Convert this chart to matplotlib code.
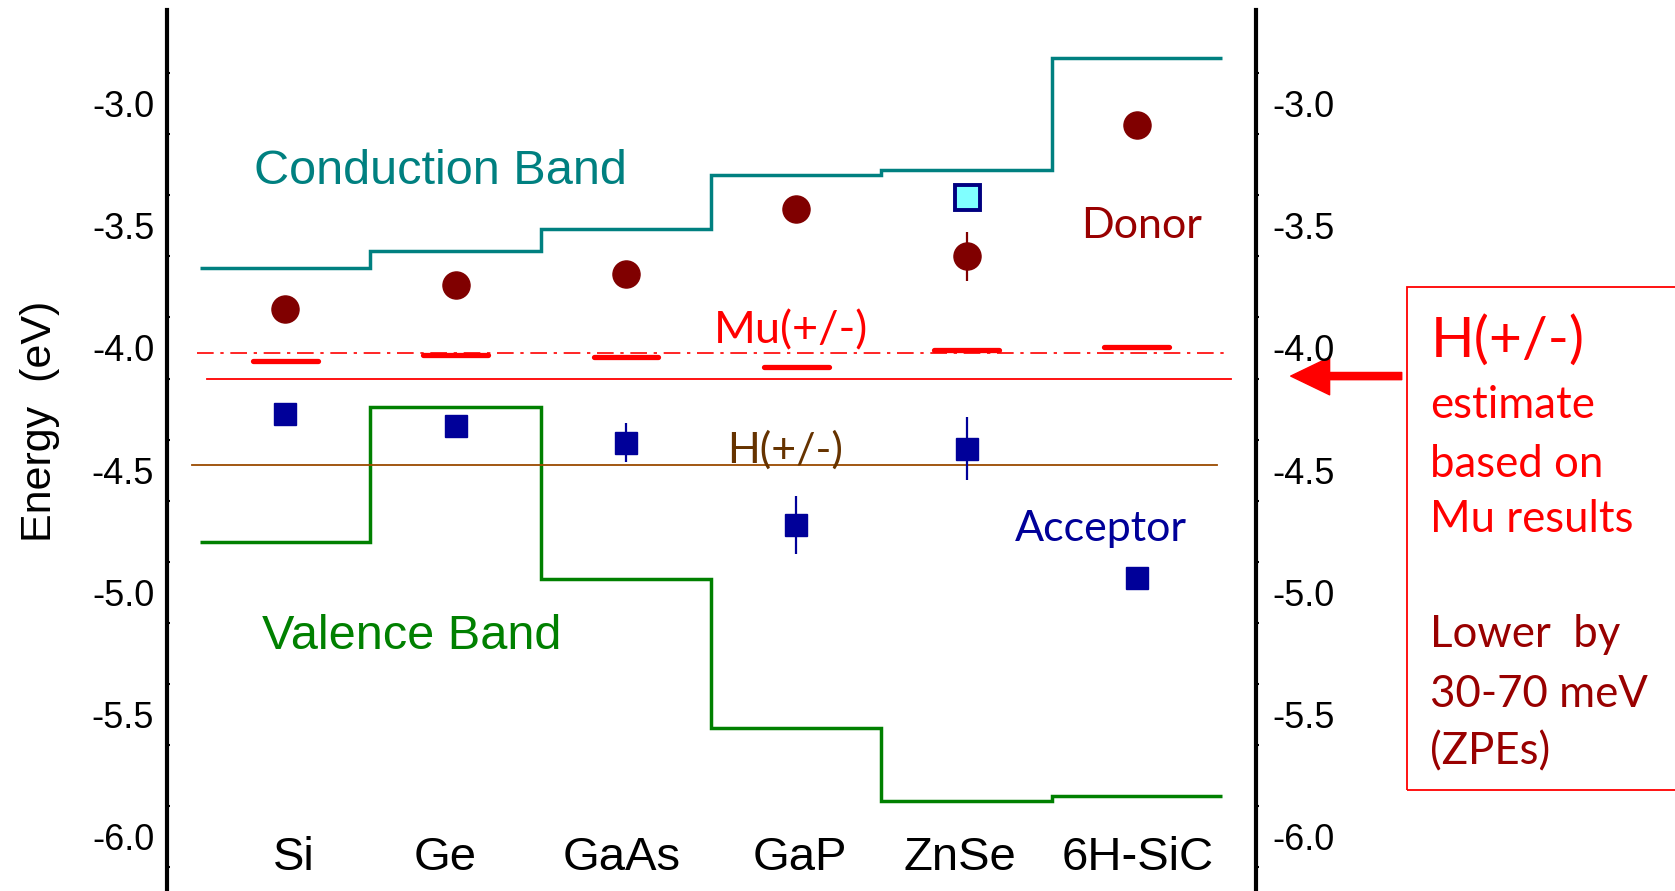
import numpy as np
import matplotlib
matplotlib.use("Agg")
import matplotlib.pyplot as plt
from matplotlib.patches import Rectangle

plt.rcParams['axes.unicode_minus'] = False

# values (eV)
materials = ['Si', 'Ge', 'GaAs', 'GaP', 'ZnSe', '6H-SiC']
cond_band = [-3.674, -3.604, -3.512, -3.293, -3.271, -2.812]
val_band = [-4.794, -4.242, -4.947, -5.555, -5.852, -5.835]
donor = [-3.840, -3.744, -3.696, -3.433, -3.624, -3.087]
donor_err = [0, 0, 0, 0, 0.10, 0]
acceptor = [-4.269, -4.321, -4.387, -4.724, -4.412, -4.942]
acceptor_err = [0, 0, 0.08, 0.12, 0.13, 0]
mu_level = [-4.054, -4.028, -4.037, -4.076, -4.010, -3.997]
znse_extra = -3.381
mu_avg = -4.022
h_est = -4.127
h_level = -4.478
yticks = [-3.0, -3.5, -4.0, -4.5, -5.0, -5.5, -6.0]

fig = plt.figure(figsize=(16.75, 8.91), dpi=100)
ax = fig.add_axes([0.0995, 0.0, 0.6504, 0.9888])
ax.set_xlim(-0.696, 5.700)
ax.set_ylim(-6.222, -2.617)

x = np.arange(len(materials))
edges = np.arange(-0.5, len(materials) + 0.5, 1)

ax.stairs(cond_band, edges, baseline=None, color='#008080', lw=2.5)
ax.stairs(val_band, edges, baseline=None, color='#008000', lw=2.5)

# horizontal reference lines
ax.plot([-0.516, 5.532], [mu_avg, mu_avg], color='red', lw=1.2, dashes=[10, 4, 2, 4])
ax.plot([-0.461, 5.552], [h_est, h_est], color='red', lw=1.3)
ax.plot([-0.545, 5.47], [h_level, h_level], color='#9A4A00', lw=1.3)

# Mu(+/-) levels
for xi, m in zip(x, mu_level):
    ax.plot([xi - 0.19, xi + 0.19], [m, m], color='red', lw=3.8, solid_capstyle='round')

ax.errorbar(x, donor, yerr=donor_err, fmt='o', color='#800000', ms=19.5,
            elinewidth=1.6, capsize=0, zorder=5)
ax.errorbar(x, acceptor, yerr=acceptor_err, fmt='s', color='#000099', ms=16,
            elinewidth=1.6, capsize=0, zorder=5)
ax.plot([4], [znse_extra], 's', ms=18, mfc='#80FFFF', mec='#000080', mew=2.8, zorder=5)

# labels inside the plot
ax.text(-0.183, -3.276, 'Conduction Band', color='#008080', fontsize=35,
        family='Liberation Sans', ha='left', va='center')
ax.text(-0.138, -5.179, 'Valence Band', color='#008000', fontsize=35,
        family='Liberation Sans', ha='left', va='center')
ax.text(4.674, -3.499, 'Donor', color='#990000', fontsize=31, family='Lato',
        ha='left', va='center')
ax.text(4.285, -4.741, 'Acceptor', color='#000099', fontsize=31, family='Lato',
        ha='left', va='center')
ax.text(2.515, -3.93, 'Mu(+/-)', color='red', fontsize=32.5, family='Lato',
        ha='left', va='center')
ax.text(2.595, -4.417, 'H(+/-)', color='#663300', fontsize=31, family='Lato',
        ha='left', va='center')

label_shift = [0.05, -0.06, -0.025, 0.02, -0.04, 0.006]
for xi, dx, name in zip(x, label_shift, materials):
    ax.text(xi + dx, -6.085, name, fontsize=34, family='Liberation Sans',
            ha='center', va='center')

# axes styling
for s in ['top', 'bottom']:
    ax.spines[s].set_visible(False)
ax.spines['left'].set_linewidth(3)
ax.set_xticks([])
ax.set_yticks(yticks)
ax.set_yticklabels(['%.1f' % v for v in yticks])
ax.set_yticks(np.arange(-2.875, -6.3, -0.25), minor=True)
ax.tick_params(axis='y', which='major', length=0, pad=9, labelsize=26)
ax.tick_params(axis='y', which='minor', direction='in', length=2.5, width=1.5)
for lab in ax.get_yticklabels():
    lab.set_family('Liberation Sans')

ax2 = ax.twinx()
ax2.set_ylim(ax.get_ylim())
for s in ['top', 'bottom', 'left']:
    ax2.spines[s].set_visible(False)
ax2.spines['right'].set_linewidth(3)
ax2.set_yticks(yticks)
ax2.set_yticklabels(['%.1f' % v for v in yticks])
ax2.set_yticks(np.arange(-2.875, -6.3, -0.25), minor=True)
ax2.tick_params(axis='y', which='major', length=0, pad=12, labelsize=26)
ax2.tick_params(axis='y', which='minor', direction='out', length=2.5, width=1.5)
for lab in ax2.get_yticklabels():
    lab.set_family('Liberation Sans')

fig.text(0.024, 0.527, 'Energy  (eV)', rotation=90, fontsize=31,
         family='Liberation Sans', ha='center', va='center')

# arrow + note box on the right
ax.annotate('', xy=(1.0318, -4.115), xycoords=('axes fraction', 'data'),
            xytext=(1.1337, -4.115), textcoords=('axes fraction', 'data'),
            arrowprops=dict(arrowstyle='simple,head_length=1.4,head_width=1.35,tail_width=0.26',
                            color='red', mutation_scale=20, shrinkA=0, shrinkB=0),
            annotation_clip=False)

fig.patches.append(Rectangle((0.8402, 0.1134), 0.2, 0.5645, transform=fig.transFigure,
                             fill=False, ec='red', lw=1.3))
fig.text(0.854, 0.5997, 'H(+/-)', color='red', fontsize=41, family='Lato', va='baseline')
note_red = ['estimate', 'based on', 'Mu results']
for yy, t in zip([0.5309, 0.4650, 0.4029], note_red):
    fig.text(0.854, yy, t, color='red', fontsize=31.5, family='Lato', va='baseline')
note_dark = ['Lower  by', '30-70 meV', '(ZPEs)']
for yy, t in zip([0.2735, 0.2068, 0.1425], note_dark):
    fig.text(0.854, yy, t, color='#990000', fontsize=31.5, family='Lato', va='baseline')

fig.savefig('out.png', dpi=100)
